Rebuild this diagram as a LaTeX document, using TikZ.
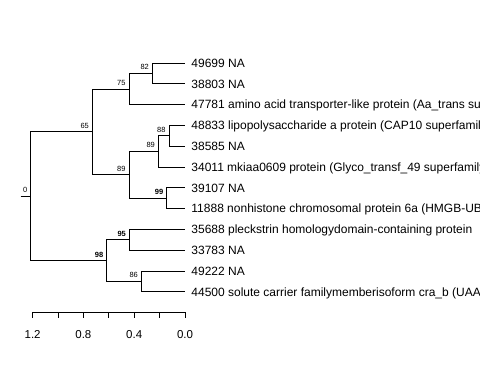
\documentclass[tikz,border=0pt]{standalone}
\usepackage{fontspec}
\setmainfont{Liberation Sans}
\usetikzlibrary{calc}

\tikzset{
  tip/.style={anchor=west, inner xsep=6pt, inner ysep=0pt,
    text height=8.6pt, text depth=0pt, font=\fontsize{12}{14}\selectfont},
  boot/.style={anchor=base east, inner sep=0pt, font=\fontsize{7.5}{9}\selectfont},
  strongboot/.style={boot, font=\fontsize{7.5}{9}\selectfont\bfseries},
  scalelab/.style={anchor=base, inner sep=0pt, font=\fontsize{11.5}{13}\selectfont},
}

\begin{document}
\begin{tikzpicture}[x=1pt,y=-1pt,line width=0.9pt]
    \useasboundingbox (0,0) rectangle (480,384);
    \def\tx{185}\def\dy{20.8}
    \def\tips{
      \foreach \lab [count=\i] in {49699 NA, 38803 NA,
          47781 amino acid transporter-like protein (Aa\_trans superfamily),
          48833 lipopolysaccharide a protein (CAP10 superfamily),
          38585 NA,
          34011 mkiaa0609 protein (Glyco\_transf\_49 superfamily),
          39107 NA,
          11888 nonhistone chromosomal protein 6a (HMGB-UBF\_HMG-box superfamily),
          35688 pleckstrin homologydomain-containing protein,
          33783 NA, 49222 NA,
          44500 solute carrier familymemberisoform cra\_b (UAA superfamily)}
        \node[tip] (t\i) at (\tx,{63+(\i-1)*\dy}) {\lab};
    }
    \def\forks{
      \coordinate (n82) at (152.3,73.4);
      \coordinate (n75) at (129,89);
      \coordinate (n88) at (169,135.8);
      \coordinate (n89a) at (158.3,151.4);
      \coordinate (n99) at (166.7,198.2);
      \coordinate (n89b) at (129,174.8);
      \coordinate (n65) at (92.3,131.9);
      \coordinate (n95) at (129.3,239.8);
      \coordinate (n86) at (141.3,281.4);
      \coordinate (n98) at (106.7,260.6);
      \coordinate (n0) at (30.7,196.3);
      \coordinate (stub) at (20.7,196.3);
    }
    \def\showBranches{
      % parent to child, vertical then horizontal
      \foreach \p/\c in {n82/t1.west, n82/t2.west, n75/n82, n75/t3.west,
          n88/t4.west, n88/t5.west, n89a/n88, n89a/t6.west,
          n99/t7.west, n99/t8.west, n89b/n89a, n89b/n99,
          n65/n75, n65/n89b, n95/t9.west, n95/t10.west,
          n86/t11.west, n86/t12.west, n98/n95, n98/n86,
          n0/n65, n0/n98} {
        \draw (\p) |- (\c);
      }
      \draw (stub) -- (n0);
    }
    \def\showSupport{
      \foreach \n/\v in {n82/82, n75/75, n88/88, n89a/89, n89b/89,
          n65/65, n86/86, n0/0}
        \node[boot] (b\n) at ($(\n)+(-3,-3.6)$) {\v};
      \foreach \n/\v in {n99/99, n95/95, n98/98}
        \node[strongboot] (b\n) at ($(\n)+(-3,-3.6)$) {\v};
    }
    \def\showAxis{
      \draw (\tx,312) -- (\tx-6*25.4,312);
      \foreach \k in {0,...,6}
        \draw (\tx-\k*25.4,312) -- ++(0,6);
      \foreach \k/\v in {0/0.0, 2/0.4, 4/0.8, 6/1.2}
        \node[scalelab] (s\k) at (\tx-\k*25.4,338) {\v};
    }
    \tips
    \forks
    \showBranches
    \showSupport
    \showAxis
\end{tikzpicture}
\end{document}
